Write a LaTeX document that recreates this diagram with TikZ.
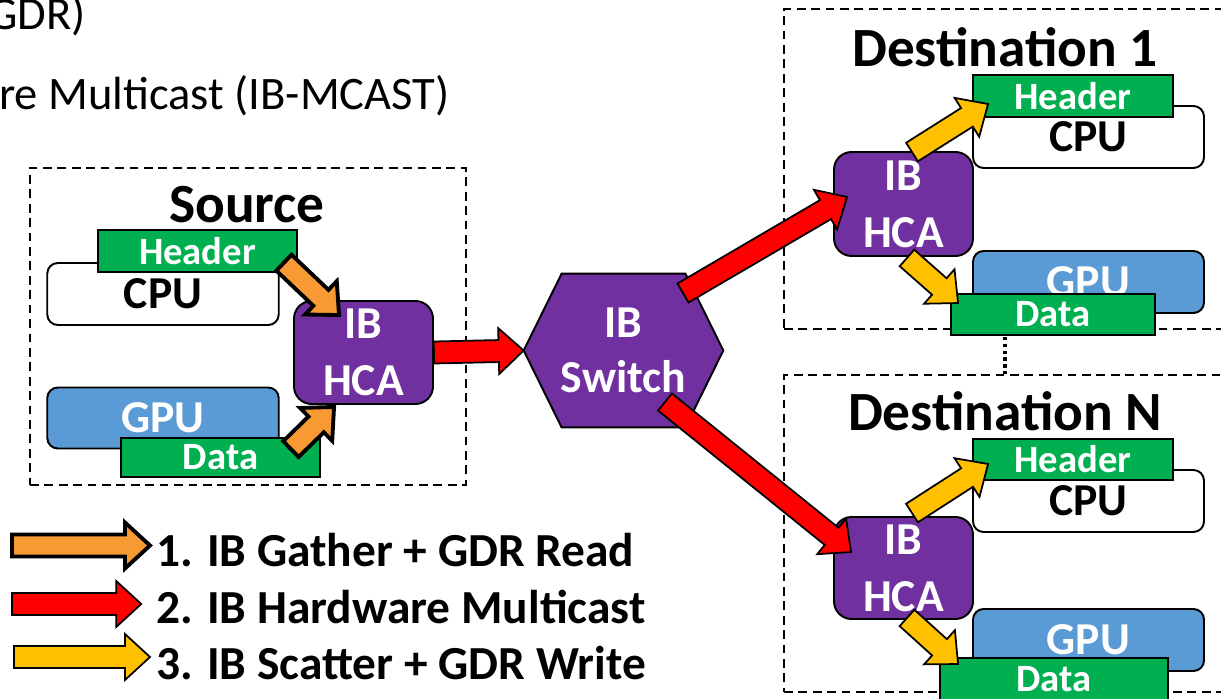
\documentclass[tikz,border=0pt]{standalone}
\usepackage{fontspec}
\setmainfont{Carlito}
\usetikzlibrary{calc}

\definecolor{ibgreen}{HTML}{00B050}
\definecolor{ibpurple}{HTML}{7030A0}
\definecolor{ibblue}{HTML}{5B9BD5}
\definecolor{iborange}{HTML}{F79A33}
\definecolor{ibyellow}{HTML}{FFC000}

% Blockpfeil von #3 nach #4
\newcommand{\fatarrow}[4][]{%
  \draw[line join=miter, fill=#2, #1]
    ($(#3)!0.22cm!90:(#4)$)
    -- ($($(#4)!0.5cm!(#3)$)!0.22cm!90:(#4)$)
    -- ($($(#4)!0.5cm!(#3)$)!0.46cm!90:(#4)$)
    -- (#4)
    -- ($($(#4)!0.5cm!(#3)$)!0.46cm!-90:(#4)$)
    -- ($($(#4)!0.5cm!(#3)$)!0.22cm!-90:(#4)$)
    -- ($(#3)!0.22cm!-90:(#4)$) -- cycle;}

\tikzset{
  host/.style={draw, line width=1.1pt, rounded corners=6pt, inner sep=0pt,
    font=\bfseries\fontsize{26}{30}\selectfont},
  cpu/.style={host, fill=white, minimum width=4.63cm, minimum height=1.24cm},
  gpu/.style={host, fill=ibblue, text=white, minimum width=4.63cm, minimum height=1.22cm},
  tag/.style={draw, line width=1.1pt, fill=ibgreen, text=white, inner sep=0pt,
    minimum height=0.83cm, font=\bfseries\fontsize{22}{26}\selectfont},
  hca/.style={draw, line width=1.1pt, fill=ibpurple, text=white, rounded corners=10pt,
    minimum width=2.78cm, minimum height=2.06cm, align=center, inner sep=0pt,
    font=\bfseries\fontsize{26}{32.4}\selectfont},
  hostbox/.style={draw, line width=1.2pt, dash pattern=on 5pt off 3.2pt, inner sep=0pt},
  title/.style={font=\bfseries\fontsize{31.5}{36}\selectfont},
  legend/.style={anchor=west, font=\bfseries\fontsize{27}{32}\selectfont},
  toptext/.style={anchor=base east, inner sep=0pt, font=\fontsize{26.5}{30}\selectfont},
}

\begin{document}
\begin{tikzpicture}[x=0.02cm, y=-0.02cm]
  \clip (0,0) rectangle (1221,699);

  \node[toptext] (gdr) at (86,30) {GDR)};
  \node[toptext] (mcast) at (450,110) {re Multicast (IB-MCAST)};

  % Quelle
  \node[hostbox, minimum width=8.72cm, minimum height=6.34cm] (srcbox) at (248,326.5) {};
  \node[title] (srctitle) at (247,205) {Source};
  \node[cpu] (scpu) at (163,294) {CPU};
  \node[tag, minimum width=3.98cm] (sheader) at (197.5,251) {Header};
  \node[hca] (shca) at (363.5,352.5) {IB\\HCA};
  \node[gpu] (sgpu) at (163,418) {GPU};
  \node[tag, minimum width=3.98cm, minimum height=0.78cm] (sdata) at (220.5,457.5) {Data};

  % Switch
  \path (623.5,350.5) node[minimum width=3.98cm, minimum height=3.06cm] (switch) {};
  \draw[fill=ibpurple, line width=1.1pt] (switch.west)
    -- ($(switch.north west)!0.19!(switch.north east)$)
    -- ($(switch.north east)!0.19!(switch.north west)$)
    -- (switch.east)
    -- ($(switch.south east)!0.19!(switch.south west)$)
    -- ($(switch.south west)!0.19!(switch.south east)$) -- cycle;
  \node[align=center, text=white, font=\bfseries\fontsize{26}{31.3}\selectfont] at (switch) {IB\\Switch};

  % Ziele
  \node[hostbox, minimum width=9.12cm, minimum height=6.4cm] (d1box) at (1012,169) {};
  \node[hostbox, minimum width=9.12cm, minimum height=6.34cm] (dnbox) at (1012,533.5) {};
  \node[title] (d1title) at (1005,47) {Destination 1};
  \node[title] (dntitle) at (1005,411) {Destination N};
  \draw[line width=1.9pt, dash pattern=on 1.9pt off 2pt] (d1title |- d1box.south) -- (d1title |- dnbox.north);

  \node[cpu, minimum width=4.62cm] (d1cpu) at (1088.5,137) {CPU};
  \node[tag, minimum width=4cm] (d1header) at (1073,96) {Header};
  \node[hca, minimum height=2.08cm] (d1hca) at (903.5,204) {IB\\HCA};
  \node[gpu, minimum width=4.62cm, minimum height=1.24cm] (d1gpu) at (1088.5,282) {GPU};
  \node[tag, minimum width=4.08cm, minimum height=0.82cm] (d1data) at (1053,314.5) {Data};

  \node[cpu, minimum width=4.62cm] (dncpu) at (1088.5,501) {CPU};
  \node[tag, minimum width=4cm] (dnheader) at (1073,459.5) {Header};
  \node[hca, minimum height=2.04cm] (dnhca) at (903.5,568) {IB\\HCA};
  \node[gpu, minimum width=4.62cm, minimum height=1.24cm] (dngpu) at (1088.5,640) {GPU};
  \node[tag, minimum width=4.56cm, minimum height=0.84cm] (dndata) at (1054,679) {Data};

  % Pfeile
  \coordinate (o1s) at ([shift={(-14,-10)}]sheader.south east);
  \coordinate (o1e) at ([shift={(46,15)}]shca.north west);
  \coordinate (o2s) at ([shift={(-30,12)}]sdata.north east);
  \coordinate (o2e) at ([shift={(41,2)}]shca.south west);
  \fatarrow[line width=2.2pt]{iborange}{o1s}{o1e}
  \fatarrow[line width=2.2pt]{iborange}{o2s}{o2e}

  \coordinate (r2s) at ([shift={(59.5,-57.5)}]switch.center);
  \coordinate (r2e) at ([shift={(14,-7)}]d1hca.west);
  \coordinate (r3s) at ([shift={(41.5,51.5)}]switch.center);
  \coordinate (r3e) at ([shift={(18,-16)}]dnhca.west);
  \fatarrow[line width=1pt]{red}{shca.east}{switch.west}
  \fatarrow[line width=1pt]{red}{r2s}{r2e}
  \fatarrow[line width=1pt]{red}{r3s}{r3e}

  \coordinate (y1s) at ([shift={(8.5,1)}]d1hca.north);
  \coordinate (y1e) at ([shift={(16,8)}]d1header.west);
  \coordinate (y2s) at ([shift={(3.5,1)}]d1hca.south);
  \coordinate (y2e) at ([shift={(8,10)}]d1data.north west);
  \coordinate (y3s) at ([shift={(8.5,-3)}]dnhca.north);
  \coordinate (y3e) at ([shift={(16,4.5)}]dnheader.west);
  \coordinate (y4s) at ([shift={(3.5,-2)}]dnhca.south);
  \coordinate (y4e) at ([shift={(19,7)}]dndata.north west);
  \fatarrow[line width=1pt]{ibyellow}{y1s}{y1e}
  \fatarrow[line width=1pt]{ibyellow}{y2s}{y2e}
  \fatarrow[line width=1pt]{ibyellow}{y3s}{y3e}
  \fatarrow[line width=1pt]{ibyellow}{y4s}{y4e}

  % Legende
  \node[legend] (leg1) at (150,550) {1. IB Gather + GDR Read};
  \node[legend] (leg2) at (150,607) {2. IB Hardware Multicast};
  \node[legend] (leg3) at (150,663) {3. IB Scatter + GDR Write};
  \coordinate (l1s) at (12,545.5);
  \coordinate (l1e) at (leg1.west |- l1s);
  \coordinate (l2s) at (12,604);
  \coordinate (l2e) at ([xshift=-5]leg2.west |- l2s);
  \coordinate (l3s) at (14,657);
  \coordinate (l3e) at (leg3.west |- l3s);
  \fatarrow[line width=2.2pt]{iborange}{l1s}{l1e}
  \fatarrow[line width=1pt]{red}{l2s}{l2e}
  \fatarrow[line width=1pt]{ibyellow}{l3s}{l3e}
\end{tikzpicture}
\end{document}
